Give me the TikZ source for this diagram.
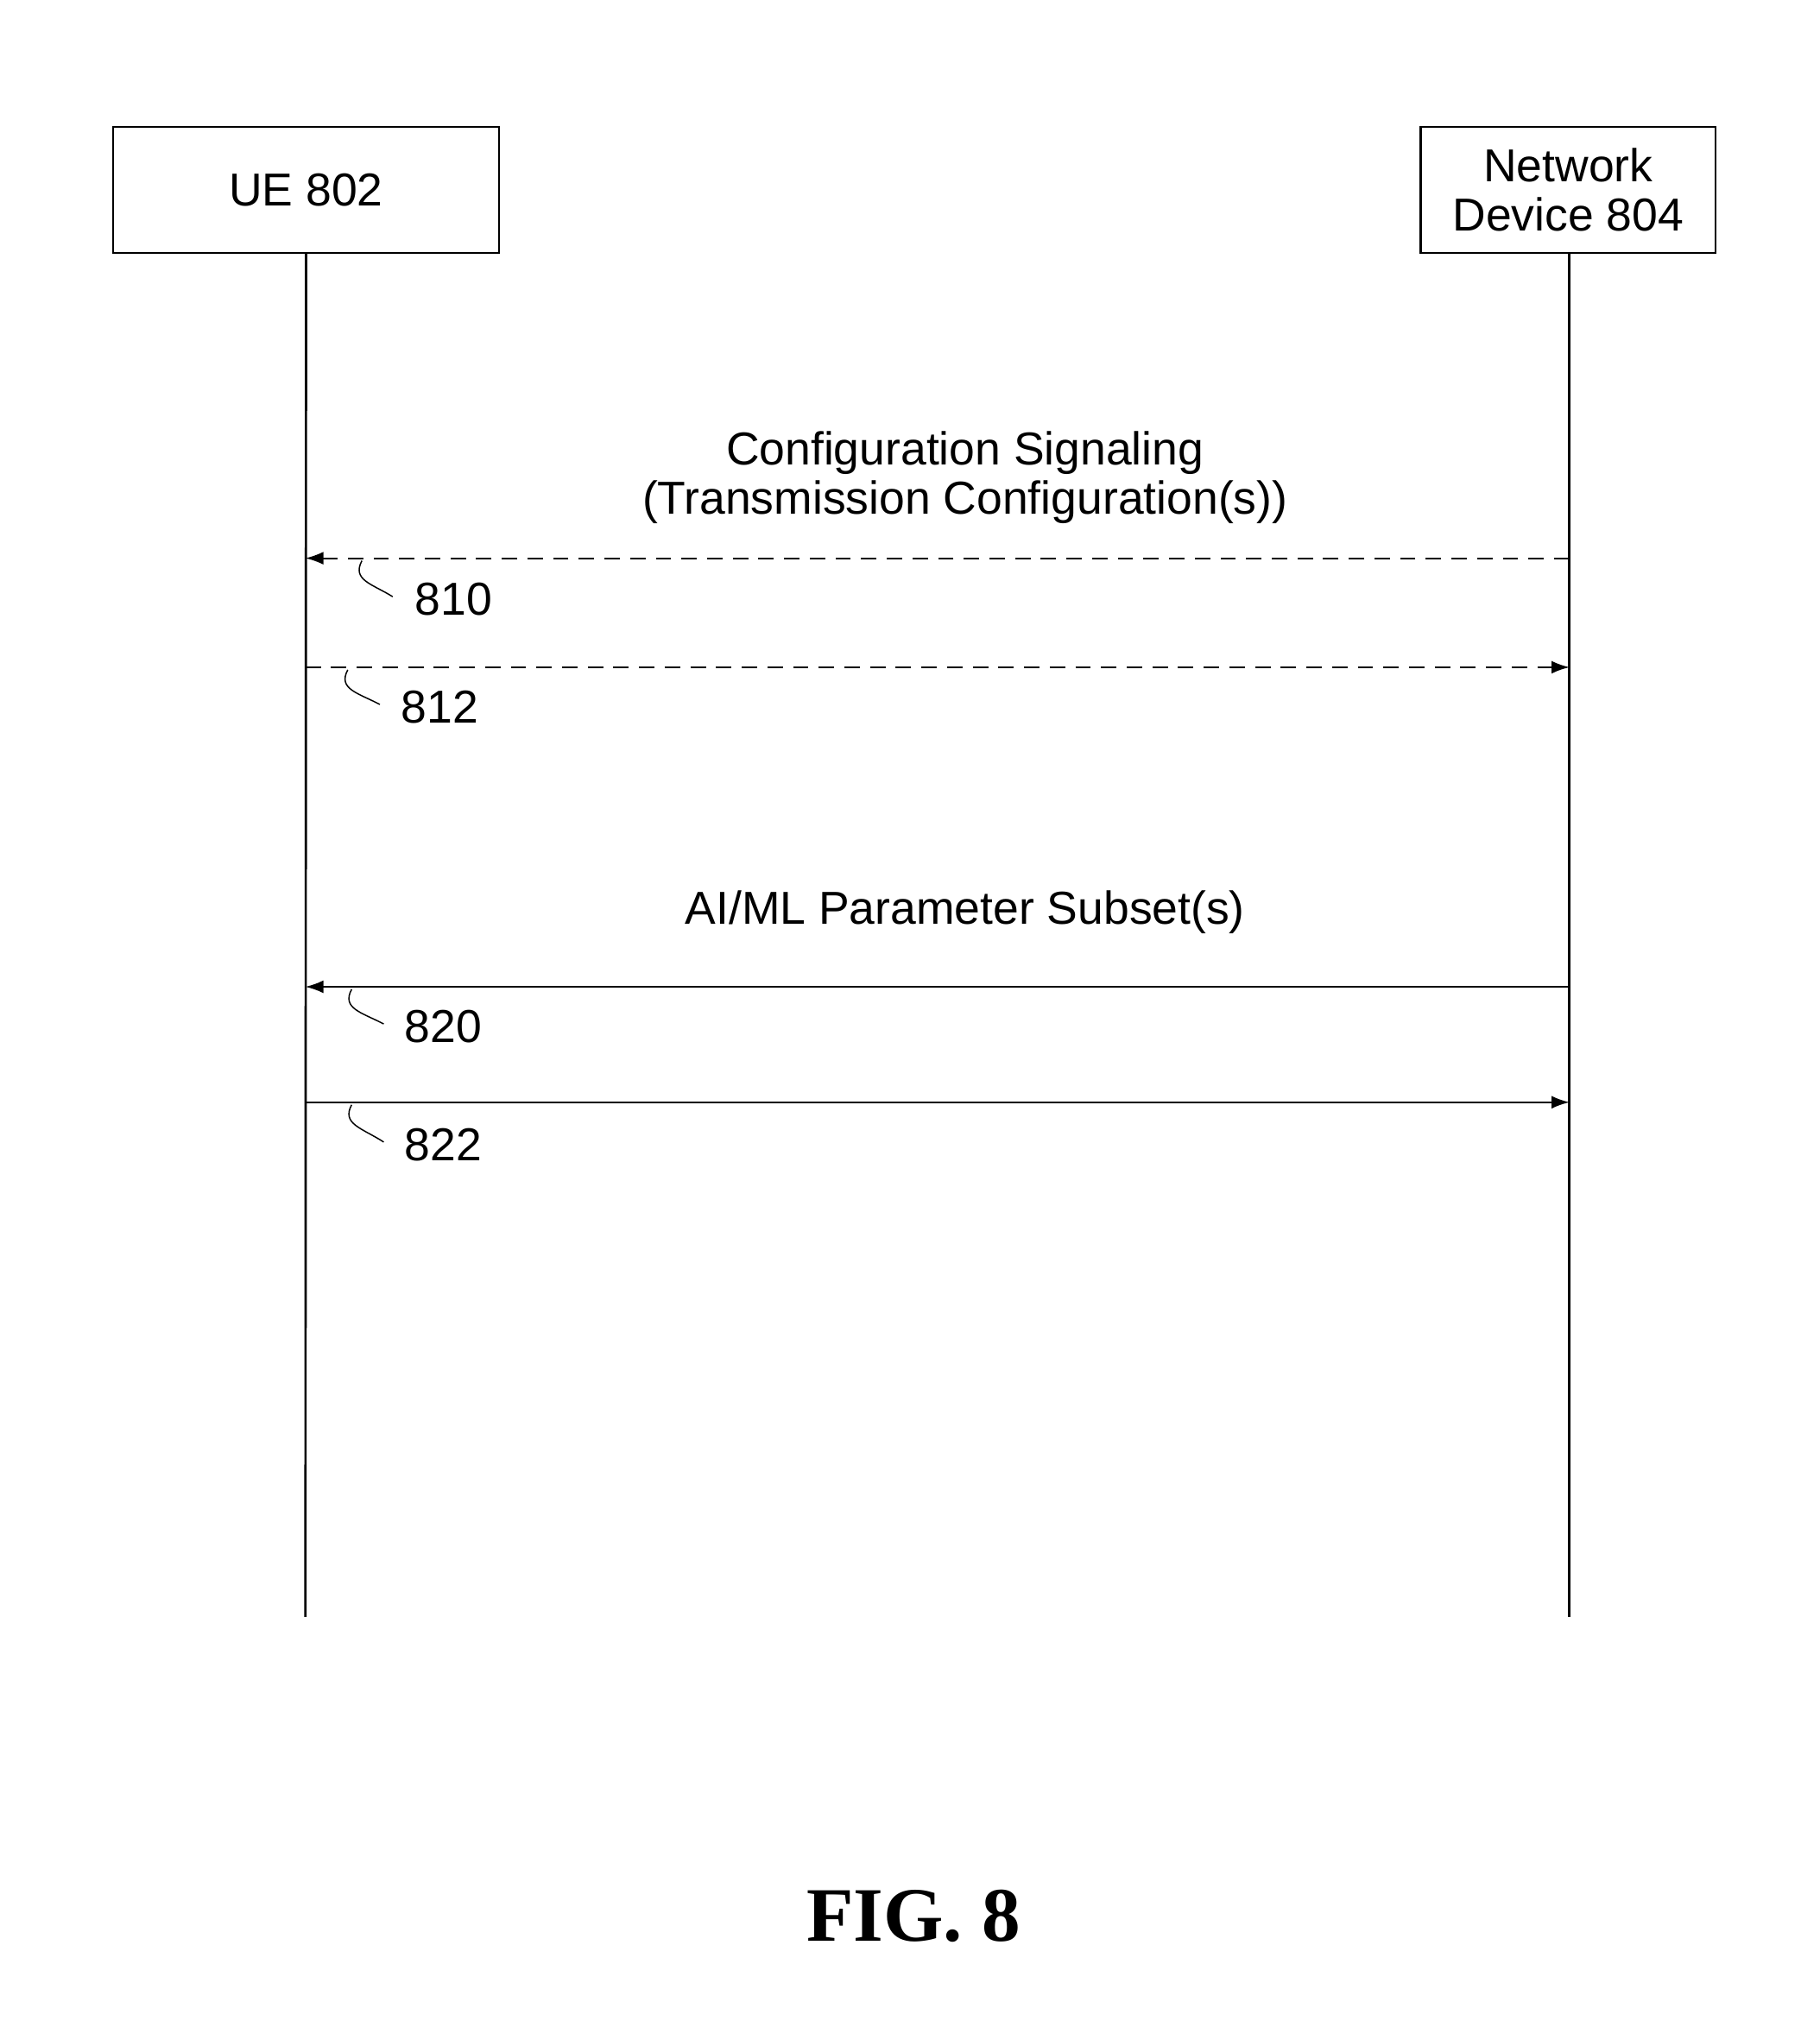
\documentclass[tikz,border=0pt]{standalone}
\usepackage{fontspec}
\setmainfont{Liberation Sans}
\newfontfamily\figfont{Liberation Serif}
\usetikzlibrary{arrows.meta}
\begin{document}
\begin{tikzpicture}[x=1pt,y=-1pt,
  box/.style={draw,line width=1.5pt,minimum width=#1,minimum height=98pt,inner sep=0pt,font=\fontsize{36}{38}\selectfont,align=center},
  life/.style={line width=1.8pt},
  msg/.style={line width=1.3pt,-{Latex[length=14pt,width=10pt]}},
  dsh/.style={dash pattern=on 12pt off 8pt},
  lbl/.style={font=\fontsize{36}{38}\selectfont,align=center},
  sq/.style={line width=1pt}]
\useasboundingbox (0,0) rectangle (1418,1575);
\node[box=301pt] (ue) at (238.5,148) {UE 802};
\node[box=230pt] (nd) at (1222,148) {Network\\Device 804};
\coordinate (ueb) at (238,1260);
\coordinate (ndb) at (1223,1260);
\draw[life] (ue.south) -- (ueb);
\draw[life] (nd.south -| ndb) -- (ndb);
\coordinate (a1r) at (1223,435); \coordinate (a1l) at (238,435);
\coordinate (a2r) at (1223,520); \coordinate (a2l) at (238,520);
\coordinate (a3r) at (1223,769); \coordinate (a3l) at (238,769);
\coordinate (a4r) at (1223,859); \coordinate (a4l) at (238,859);
\draw[msg,dsh] (a1r) -- (a1l);
\draw[msg,dsh] (a2l) -- (a2r);
\draw[msg] (a3r) -- (a3l);
\draw[msg] (a4l) -- (a4r);
\node[lbl] (t1) at (752,372) {Configuration Signaling\\(Transmission Configuration(s))};
\node[lbl] (t2) at (752,711) {AI/ML Parameter Subset(s)};
\node[lbl,anchor=west] (n810) at (320,467) {810};
\node[lbl,anchor=west] (n812) at (309,551) {812};
\node[lbl,anchor=west] (n820) at (312,800) {820};
\node[lbl,anchor=west] (n822) at (312,892) {822};
\draw[sq] (282,437) .. controls (274,452) and (290,455) .. (306,465);
\draw[sq] (271,522) .. controls (263,537) and (279,540) .. (296,549);
\draw[sq] (274,771) .. controls (266,786) and (282,789) .. (299,798);
\draw[sq] (274,861) .. controls (266,876) and (282,879) .. (299,890);
\node[font=\figfont\bfseries\fontsize{60}{60}\selectfont] (fig) at (712,1493) {FIG. 8};
\end{tikzpicture}
\end{document}
